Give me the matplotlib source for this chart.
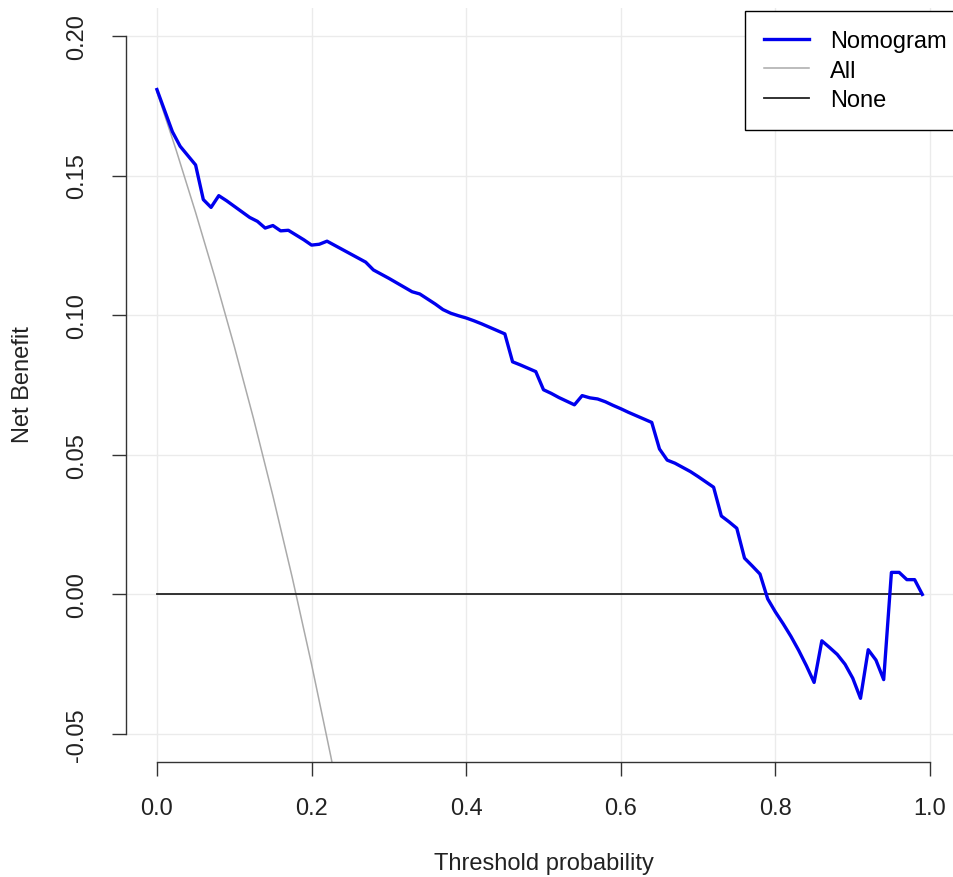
import matplotlib
matplotlib.use("Agg")
import matplotlib.pyplot as plt

plt.rcParams['font.family'] = ['Liberation Sans', 'DejaVu Sans']

thresholds = [0.00, 0.02, 0.03, 0.05, 0.06, 0.07, 0.08, 0.09, 0.10, 0.11, 0.12, 0.13, 0.14, 0.15,
              0.16, 0.17, 0.18, 0.19, 0.20, 0.21, 0.22, 0.23, 0.24, 0.25, 0.26, 0.27, 0.28, 0.29,
              0.30, 0.31, 0.32, 0.33, 0.34, 0.35, 0.36, 0.37, 0.38, 0.39, 0.40, 0.41, 0.42, 0.43,
              0.44, 0.45, 0.46, 0.47, 0.48, 0.49, 0.50, 0.51, 0.52, 0.53, 0.54, 0.55, 0.56, 0.57,
              0.58, 0.59, 0.60, 0.61, 0.62, 0.63, 0.64, 0.65, 0.66, 0.67, 0.68, 0.69, 0.70, 0.71,
              0.72, 0.73, 0.74, 0.75, 0.76, 0.77, 0.78, 0.79, 0.80, 0.81, 0.82, 0.83, 0.84, 0.85,
              0.86, 0.87, 0.88, 0.89, 0.90, 0.91, 0.92, 0.93, 0.94, 0.95, 0.96, 0.97, 0.98, 0.99]
nomogram = [0.1808, 0.1657, 0.1605, 0.1538, 0.1414, 0.1386, 0.1428, 0.1410, 0.1390, 0.1370, 0.1350,
            0.1336, 0.1312, 0.1321, 0.1302, 0.1304, 0.1287, 0.1270, 0.1251, 0.1254, 0.1265, 0.1250,
            0.1235, 0.1220, 0.1205, 0.1190, 0.1162, 0.1147, 0.1132, 0.1116, 0.1100, 0.1084, 0.1076,
            0.1058, 0.1040, 0.1020, 0.1007, 0.0998, 0.0990, 0.0980, 0.0969, 0.0957, 0.0945, 0.0933,
            0.0833, 0.0822, 0.0810, 0.0798, 0.0733, 0.0720, 0.0705, 0.0692, 0.0679, 0.0712, 0.0704,
            0.0700, 0.0690, 0.0677, 0.0665, 0.0652, 0.0640, 0.0628, 0.0616, 0.0521, 0.0481, 0.0470,
            0.0455, 0.0440, 0.0422, 0.0403, 0.0384, 0.0281, 0.0260, 0.0237, 0.0130, 0.0102, 0.0073,
            -0.0016, -0.0063, -0.0105, -0.0150, -0.0200, -0.0255, -0.0315, -0.0166, -0.0190,
            -0.0215, -0.0250, -0.0300, -0.0372, -0.0198, -0.0235, -0.0305, 0.0079, 0.0079, 0.0053,
            0.0053, 0.0000]

all_thresholds = [0.000, 0.025, 0.050, 0.075, 0.100, 0.125, 0.150, 0.175, 0.200, 0.225, 0.250]
all_values = [0.1800, 0.1590, 0.1368, 0.1135, 0.0889, 0.0629, 0.0353, 0.0061, -0.0250, -0.0581, -0.0933]

none_thresholds = [0.00, 0.99]
none_values = [0.0, 0.0]

x_ticks = [0.0, 0.2, 0.4, 0.6, 0.8, 1.0]
y_ticks = [-0.05, 0.00, 0.05, 0.10, 0.15, 0.20]

W, H = 954, 878
FS = 17
fig = plt.figure(figsize=(W / 100, H / 100), dpi=100)
ax = fig.add_axes([126 / W, (H - 763) / H, (961 - 126) / W, (763 - 9) / H])

ax.set_xlim(-0.04, 1.04)
ax.set_ylim(-0.06, 0.21)

for xv in x_ticks:
    ax.axvline(xv, color='#ebebeb', lw=1.0, zorder=0)
for yv in y_ticks:
    ax.axhline(yv, color='#ebebeb', lw=1.0, zorder=0)

ax.plot(thresholds, nomogram, color='#0000ee', lw=2.4, label='Nomogram', zorder=3,
        solid_joinstyle='round')
ax.plot(all_thresholds, all_values, color='#aaaaaa', lw=1.1, label='All', zorder=2)
ax.plot(none_thresholds, none_values, color='#222222', lw=1.3, label='None', zorder=2)

for s in ['top', 'right']:
    ax.spines[s].set_visible(False)
ax.spines['left'].set_bounds(-0.05, 0.20)
ax.spines['bottom'].set_bounds(0.0, 1.0)
for s in ['left', 'bottom']:
    ax.spines[s].set_color('#333333')
    ax.spines[s].set_linewidth(1.0)

ax.set_xticks(x_ticks)
ax.set_xticklabels(['0.0', '0.2', '0.4', '0.6', '0.8', '1.0'])
ax.set_yticks(y_ticks)
ax.set_yticklabels(['-0.05', '0.00', '0.05', '0.10', '0.15', '0.20'], rotation=90, va='center')
ax.tick_params(axis='both', length=10, width=1.0, color='#333333', labelsize=FS, labelcolor='#222222')
ax.tick_params(axis='x', pad=15)
ax.tick_params(axis='y', pad=17)

fig.text(23 / W, 1 - 385 / H, 'Net Benefit', rotation=90, ha='center', va='center', fontsize=FS,
         color='#222222')
fig.text(544 / W, 1 - 864 / H, 'Threshold probability', ha='center', va='center', fontsize=FS,
         color='#222222')

leg = ax.legend(loc='upper left', bbox_to_anchor=(745 / W, 1 - 12 / H), bbox_transform=fig.transFigure,
                fontsize=FS, frameon=True, fancybox=False, framealpha=1, edgecolor='black',
                borderpad=0.8, labelspacing=0.33, handlelength=1.9, handletextpad=0.9, borderaxespad=0)
leg.get_frame().set_linewidth(1.0)

fig.savefig('out.png', dpi=100)
